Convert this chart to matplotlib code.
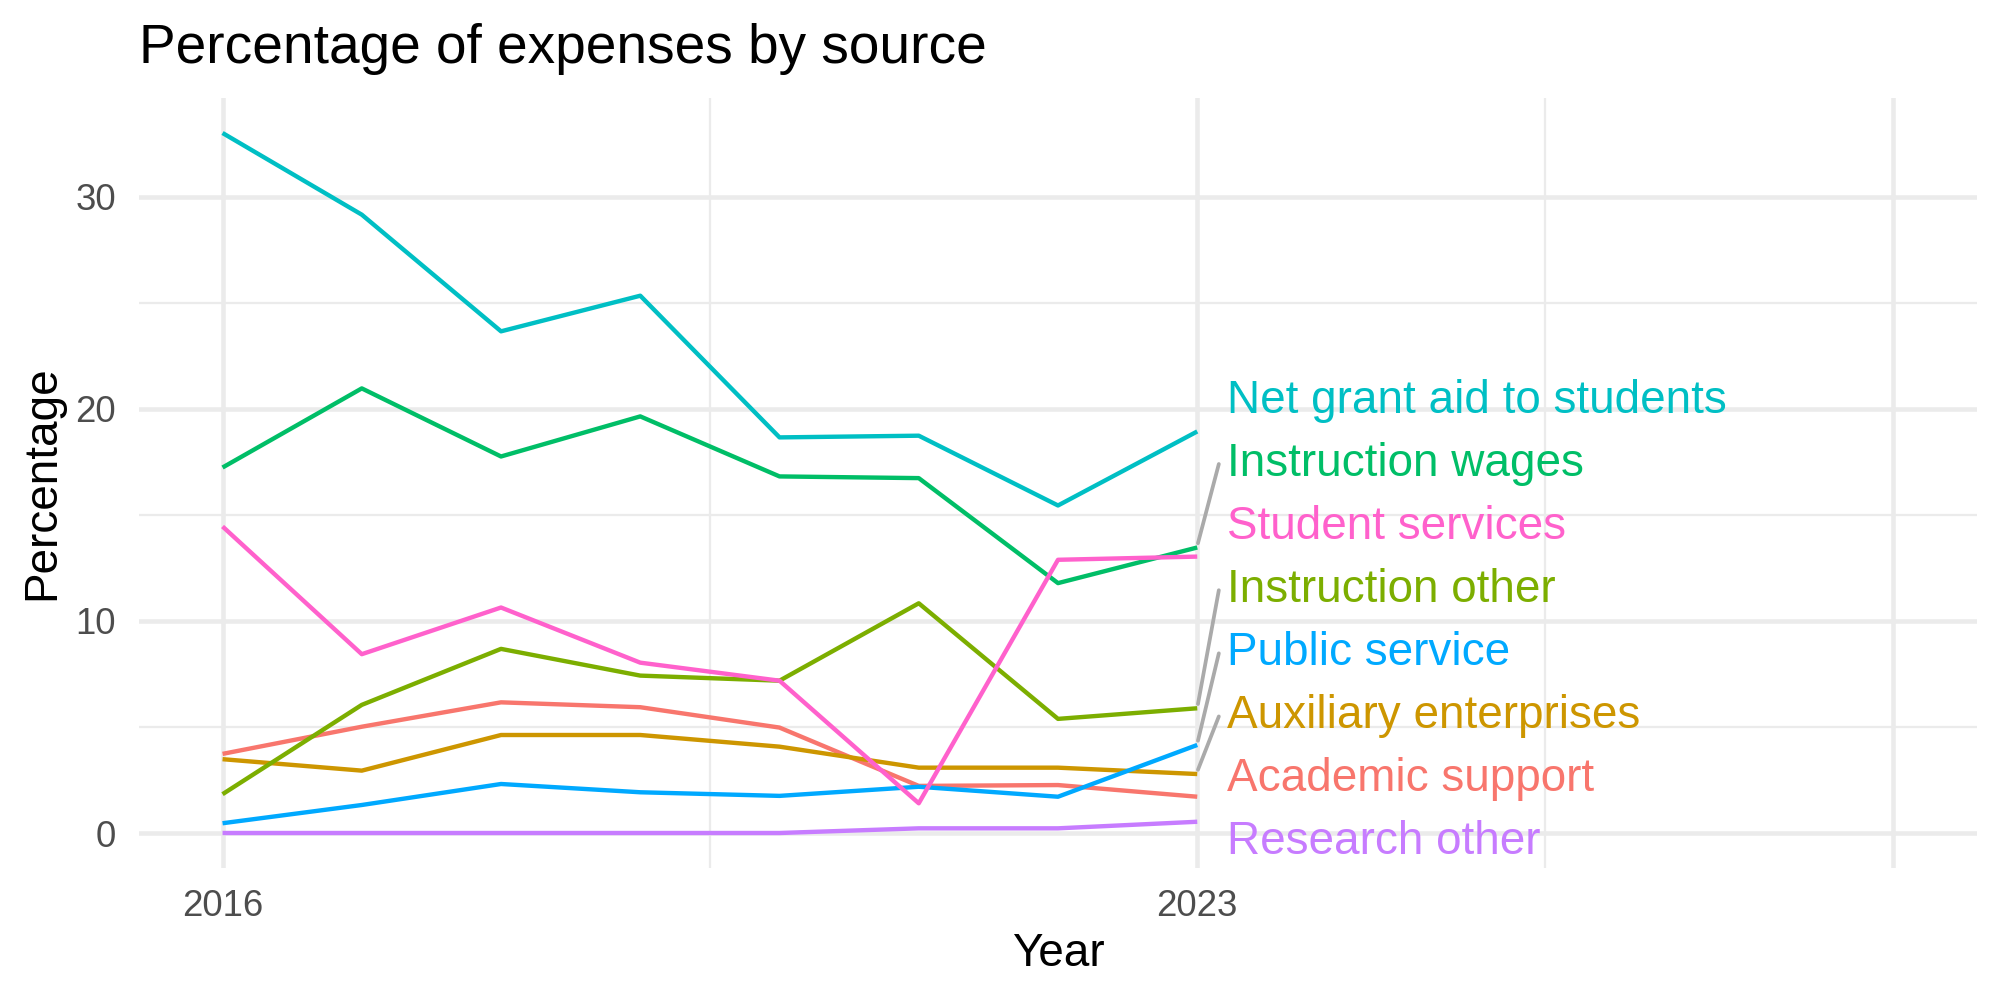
import matplotlib
matplotlib.use("Agg")
import matplotlib.pyplot as plt
from matplotlib.ticker import FixedLocator

plt.rcParams['font.family'] = ['Liberation Sans', 'DejaVu Sans']

years = [2016, 2017, 2018, 2019, 2020, 2021, 2022, 2023]
categories = ["Academic support", "Auxiliary enterprises", "Instruction other",
              "Instruction wages", "Net grant aid to students", "Public service",
              "Research other", "Student services"]
academic_support = [3.73, 5.01, 6.16, 5.93, 4.97, 2.22, 2.26, 1.71]
auxiliary_enterprises = [3.48, 2.94, 4.62, 4.62, 4.07, 3.08, 3.08, 2.78]
instruction_other = [1.83, 6.04, 8.68, 7.42, 7.18, 10.83, 5.38, 5.88]
instruction_wages = [17.23, 20.96, 17.75, 19.64, 16.81, 16.73, 11.78, 13.46]
net_grant_aid = [33.0, 29.15, 23.65, 25.33, 18.65, 18.73, 15.44, 18.93]
public_service = [0.46, 1.32, 2.31, 1.92, 1.75, 2.18, 1.71, 4.15]
research_other = [0.0, 0.0, 0.0, 0.0, 0.0, 0.22, 0.22, 0.53]
student_services = [14.45, 8.43, 10.63, 8.03, 7.18, 1.40, 12.88, 13.03]

series = [academic_support, auxiliary_enterprises, instruction_other,
          instruction_wages, net_grant_aid, public_service, research_other,
          student_services]
colors = ["#F8766D", "#CD9600", "#7CAE00", "#00BE67", "#00BFC4", "#00A9FF",
          "#C77CFF", "#FF61CC"]

x_breaks = [2016, 2023, 2028]
x_break_labels = ["2016", "2023", ""]
x_minor = [2019.5, 2025.5]
y_breaks = [0, 10, 20, 30]
y_minor = [5, 15, 25]

fig = plt.figure(figsize=(6.6667, 3.33334), dpi=300)
ax = fig.add_axes([0.0695, 0.132, 0.919, 0.770])

grid_col = "#EBEBEB"
ax.set_xlim(2015.4, 2028.6)
ymax = max(max(s) for s in series)
ymin = 0.0
pad = (ymax - ymin) * 0.05
ax.set_ylim(ymin - pad, ymax + pad)

ax.set_xticks(x_breaks)
ax.set_xticklabels(x_break_labels)
ax.xaxis.set_minor_locator(FixedLocator(x_minor))
ax.set_yticks(y_breaks)
ax.set_yticklabels([str(v) for v in y_breaks])
ax.yaxis.set_minor_locator(FixedLocator(y_minor))
ax.grid(which='major', color=grid_col, linewidth=1.1)
ax.grid(which='minor', color=grid_col, linewidth=0.55)
ax.set_axisbelow(True)
ax.tick_params(which='both', length=0)
ax.tick_params(axis='x', labelsize=8.8, labelcolor="#4D4D4D", pad=5)
ax.tick_params(axis='y', labelsize=8.8, labelcolor="#4D4D4D", pad=5.5)
for sp in ax.spines.values():
    sp.set_visible(False)

for vals, col in zip(series, colors):
    ax.plot(years, vals, color=col, linewidth=1.05, solid_capstyle='butt',
            clip_on=False)

# labels stacked at the right end, ordered by final value (repel-like)
order = sorted(range(len(series)), key=lambda i: -series[i][-1])
label_x = 2023.215
top_center = 20.62
spacing = 2.975
for rank, i in enumerate(order):
    yc = top_center - rank * spacing
    yend = series[i][-1]
    ax.text(label_x, yc, categories[i], color=colors[i], fontsize=11,
            ha='left', va='center_baseline', clip_on=False)
    if abs(yc - yend) > 2.0:
        ax.plot([years[-1] + 0.005, label_x - 0.06], [yend + 0.2, yc - 0.25],
                color="#AAAAAA", linewidth=0.9, solid_capstyle='round',
                zorder=1.5)

ax.set_xlabel("Year", fontsize=11, labelpad=2)
ax.set_ylabel("Percentage", fontsize=11, labelpad=2.6)

fig.text(0.0695, 1 - 63 / 1000, "Percentage of expenses by source",
         fontsize=13.2, ha='left', va='baseline')

fig.savefig("out.png", dpi=300)
